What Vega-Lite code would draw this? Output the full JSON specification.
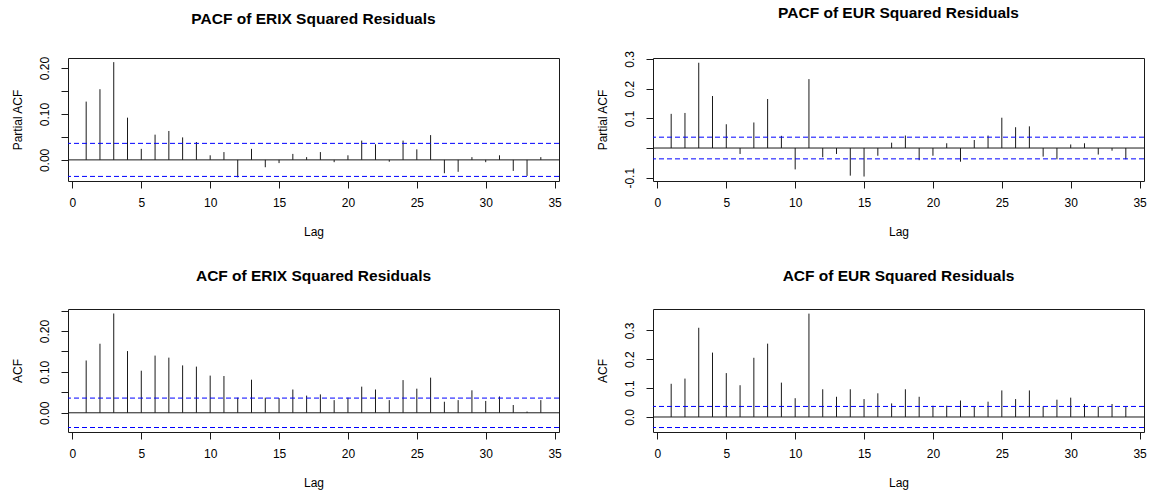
{
  "$schema": "https://vega.github.io/schema/vega-lite/v6.json",
  "background": "white",
  "padding": {"left": 10, "top": 5, "right": 2, "bottom": 2},
  "columns": 2,
  "bounds": "flush",
  "spacing": {"row": 128, "column": 94},
  "config": {
    "view": {"stroke": "#1a1a1a", "strokeWidth": 1},
    "font": "Liberation Sans",
    "axis": {"domain": false, "grid": false, "tickColor": "#1a1a1a", "tickSize": 7, "labelColor": "#000", "labelFontSize": 12, "titleFontSize": 12, "titleFontWeight": "normal", "titleColor": "#000", "labelFont": "Liberation Sans", "titleFont": "Liberation Sans", "labelOverlap": false},
    "axisY": {"labelAngle": -90, "labelAlign": "center", "labelBaseline": "bottom", "labelPadding": 10, "titlePadding": 14, "labelOverlap": false},
    "axisX": {"labelPadding": 9, "titlePadding": 18, "labelFlush": false},
    "title": {"fontSize": 15.5, "fontWeight": "bold", "color": "#000", "font": "Liberation Sans", "anchor": "middle"}
  },
  "datasets": {
    "pacf_erix": [
      {"lag": 1, "value": 0.127}, {"lag": 2, "value": 0.154}, {"lag": 3, "value": 0.213}, {"lag": 4, "value": 0.092},
      {"lag": 5, "value": 0.024}, {"lag": 6, "value": 0.055}, {"lag": 7, "value": 0.063}, {"lag": 8, "value": 0.049},
      {"lag": 9, "value": 0.039}, {"lag": 10, "value": 0.010}, {"lag": 11, "value": 0.017}, {"lag": 12, "value": -0.038},
      {"lag": 13, "value": 0.024}, {"lag": 14, "value": -0.016}, {"lag": 15, "value": -0.007}, {"lag": 16, "value": 0.013},
      {"lag": 17, "value": 0.006}, {"lag": 18, "value": 0.017}, {"lag": 19, "value": -0.005}, {"lag": 20, "value": 0.010},
      {"lag": 21, "value": 0.042}, {"lag": 22, "value": 0.034}, {"lag": 23, "value": -0.004}, {"lag": 24, "value": 0.042},
      {"lag": 25, "value": 0.023}, {"lag": 26, "value": 0.054}, {"lag": 27, "value": -0.029}, {"lag": 28, "value": -0.026},
      {"lag": 29, "value": 0.006}, {"lag": 30, "value": -0.005}, {"lag": 31, "value": 0.010}, {"lag": 32, "value": -0.024},
      {"lag": 33, "value": -0.035}, {"lag": 34, "value": 0.006}
    ],
    "pacf_eur": [
      {"lag": 1, "value": 0.115}, {"lag": 2, "value": 0.118}, {"lag": 3, "value": 0.287}, {"lag": 4, "value": 0.175},
      {"lag": 5, "value": 0.080}, {"lag": 6, "value": -0.020}, {"lag": 7, "value": 0.086}, {"lag": 8, "value": 0.165},
      {"lag": 9, "value": 0.041}, {"lag": 10, "value": -0.072}, {"lag": 11, "value": 0.232}, {"lag": 12, "value": -0.031},
      {"lag": 13, "value": -0.020}, {"lag": 14, "value": -0.093}, {"lag": 15, "value": -0.096}, {"lag": 16, "value": -0.026},
      {"lag": 17, "value": 0.018}, {"lag": 18, "value": 0.042}, {"lag": 19, "value": -0.041}, {"lag": 20, "value": -0.026},
      {"lag": 21, "value": 0.016}, {"lag": 22, "value": -0.046}, {"lag": 23, "value": 0.027}, {"lag": 24, "value": 0.042},
      {"lag": 25, "value": 0.102}, {"lag": 26, "value": 0.070}, {"lag": 27, "value": 0.073}, {"lag": 28, "value": -0.029},
      {"lag": 29, "value": -0.038}, {"lag": 30, "value": 0.012}, {"lag": 31, "value": 0.016}, {"lag": 32, "value": -0.022},
      {"lag": 33, "value": -0.009}, {"lag": 34, "value": -0.038}
    ],
    "acf_erix": [
      {"lag": 1, "value": 0.128}, {"lag": 2, "value": 0.169}, {"lag": 3, "value": 0.243}, {"lag": 4, "value": 0.151},
      {"lag": 5, "value": 0.103}, {"lag": 6, "value": 0.140}, {"lag": 7, "value": 0.135}, {"lag": 8, "value": 0.116},
      {"lag": 9, "value": 0.113}, {"lag": 10, "value": 0.091}, {"lag": 11, "value": 0.090}, {"lag": 12, "value": 0.037},
      {"lag": 13, "value": 0.081}, {"lag": 14, "value": 0.037}, {"lag": 15, "value": 0.036}, {"lag": 16, "value": 0.057},
      {"lag": 17, "value": 0.042}, {"lag": 18, "value": 0.045}, {"lag": 19, "value": 0.031}, {"lag": 20, "value": 0.037},
      {"lag": 21, "value": 0.064}, {"lag": 22, "value": 0.057}, {"lag": 23, "value": 0.031}, {"lag": 24, "value": 0.080},
      {"lag": 25, "value": 0.059}, {"lag": 26, "value": 0.086}, {"lag": 27, "value": 0.027}, {"lag": 28, "value": 0.031},
      {"lag": 29, "value": 0.055}, {"lag": 30, "value": 0.029}, {"lag": 31, "value": 0.040}, {"lag": 32, "value": 0.019},
      {"lag": 33, "value": 0.003}, {"lag": 34, "value": 0.031}
    ],
    "acf_eur": [
      {"lag": 1, "value": 0.115}, {"lag": 2, "value": 0.133}, {"lag": 3, "value": 0.309}, {"lag": 4, "value": 0.223},
      {"lag": 5, "value": 0.152}, {"lag": 6, "value": 0.110}, {"lag": 7, "value": 0.205}, {"lag": 8, "value": 0.254},
      {"lag": 9, "value": 0.119}, {"lag": 10, "value": 0.065}, {"lag": 11, "value": 0.358}, {"lag": 12, "value": 0.096},
      {"lag": 13, "value": 0.070}, {"lag": 14, "value": 0.096}, {"lag": 15, "value": 0.062}, {"lag": 16, "value": 0.082},
      {"lag": 17, "value": 0.047}, {"lag": 18, "value": 0.096}, {"lag": 19, "value": 0.070}, {"lag": 20, "value": 0.039},
      {"lag": 21, "value": 0.039}, {"lag": 22, "value": 0.057}, {"lag": 23, "value": 0.036}, {"lag": 24, "value": 0.053},
      {"lag": 25, "value": 0.092}, {"lag": 26, "value": 0.062}, {"lag": 27, "value": 0.092}, {"lag": 28, "value": 0.036},
      {"lag": 29, "value": 0.060}, {"lag": 30, "value": 0.067}, {"lag": 31, "value": 0.045}, {"lag": 32, "value": 0.036},
      {"lag": 33, "value": 0.045}, {"lag": 34, "value": 0.036}
    ],
    "ci_erix": [{"level": 0.036}, {"level": -0.036}],
    "ci_eur": [{"level": 0.0365}, {"level": -0.0365}],
    "zero": [{"level": 0}]
  },
  "concat": [
    {
      "title": {"text": "PACF of ERIX Squared Residuals", "offset": 29},
      "width": 491, "height": 123,
      "layer": [
        {"data": {"name": "pacf_erix"}, "mark": {"type": "rule", "color": "#1a1a1a", "strokeWidth": 1},
         "encoding": {
           "x": {"field": "lag", "type": "quantitative", "scale": {"domain": [-0.32, 35.32], "nice": false, "zero": false}, "axis": {"values": [0, 5, 10, 15, 20, 25, 30, 35], "title": "Lag", "labelOverlap": false}},
           "y": {"field": "value", "type": "quantitative", "title": "Partial ACF", "scale": {"domain": [-0.046, 0.222], "nice": false, "zero": false},
                 "axis": {"values": [0, 0.05, 0.1, 0.15, 0.2], "labelOverlap": false, "labelExpr": "abs(datum.value*10 - round(datum.value*10)) < 0.001 ? format(datum.value, '.2f') : ''"}},
           "y2": {"datum": 0}
         }},
        {"data": {"name": "ci_erix"}, "mark": {"type": "rule", "color": "#0000ff", "strokeDash": [5, 3], "strokeWidth": 1},
         "encoding": {"y": {"field": "level", "type": "quantitative", "title": "Partial ACF",
                 "axis": {"values": [0, 0.05, 0.1, 0.15, 0.2], "labelOverlap": false, "labelExpr": "abs(datum.value*10 - round(datum.value*10)) < 0.001 ? format(datum.value, '.2f') : ''"}}}},
        {"data": {"name": "zero"}, "mark": {"type": "rule", "color": "#1a1a1a", "strokeWidth": 1},
         "encoding": {"y": {"field": "level", "type": "quantitative", "title": "Partial ACF",
                 "axis": {"values": [0, 0.05, 0.1, 0.15, 0.2], "labelOverlap": false, "labelExpr": "abs(datum.value*10 - round(datum.value*10)) < 0.001 ? format(datum.value, '.2f') : ''"}}}}
      ]
    },
    {
      "title": {"text": "PACF of EUR Squared Residuals", "offset": 29},
      "width": 491, "height": 123,
      "layer": [
        {"data": {"name": "pacf_eur"}, "mark": {"type": "rule", "color": "#1a1a1a", "strokeWidth": 1},
         "encoding": {
           "x": {"field": "lag", "type": "quantitative", "scale": {"domain": [-0.32, 35.32], "nice": false, "zero": false}, "axis": {"values": [0, 5, 10, 15, 20, 25, 30, 35], "title": "Lag", "labelOverlap": false}},
           "y": {"field": "value", "type": "quantitative", "title": "Partial ACF", "scale": {"domain": [-0.111, 0.303], "nice": false, "zero": false},
                 "axis": {"values": [-0.1, 0, 0.1, 0.2, 0.3], "labelOverlap": false, "labelExpr": "abs(datum.value) < 0.001 ? '' : (datum.value < 0 ? '-' + format(-datum.value, '.1f') : format(datum.value, '.1f'))"}},
           "y2": {"datum": 0}
         }},
        {"data": {"name": "ci_eur"}, "mark": {"type": "rule", "color": "#0000ff", "strokeDash": [5, 3], "strokeWidth": 1},
         "encoding": {"y": {"field": "level", "type": "quantitative", "title": "Partial ACF",
                 "axis": {"values": [-0.1, 0, 0.1, 0.2, 0.3], "labelOverlap": false, "labelExpr": "abs(datum.value) < 0.001 ? '' : (datum.value < 0 ? '-' + format(-datum.value, '.1f') : format(datum.value, '.1f'))"}}}},
        {"data": {"name": "zero"}, "mark": {"type": "rule", "color": "#1a1a1a", "strokeWidth": 1},
         "encoding": {"y": {"field": "level", "type": "quantitative", "title": "Partial ACF",
                 "axis": {"values": [-0.1, 0, 0.1, 0.2, 0.3], "labelOverlap": false, "labelExpr": "abs(datum.value) < 0.001 ? '' : (datum.value < 0 ? '-' + format(-datum.value, '.1f') : format(datum.value, '.1f'))"}}}}
      ]
    },
    {
      "title": {"text": "ACF of ERIX Squared Residuals", "offset": 25},
      "width": 491, "height": 123,
      "layer": [
        {"data": {"name": "acf_erix"}, "mark": {"type": "rule", "color": "#1a1a1a", "strokeWidth": 1},
         "encoding": {
           "x": {"field": "lag", "type": "quantitative", "scale": {"domain": [-0.32, 35.32], "nice": false, "zero": false}, "axis": {"values": [0, 5, 10, 15, 20, 25, 30, 35], "title": "Lag", "labelOverlap": false}},
           "y": {"field": "value", "type": "quantitative", "title": "ACF", "scale": {"domain": [-0.047, 0.254], "nice": false, "zero": false},
                 "axis": {"values": [0, 0.05, 0.1, 0.15, 0.2, 0.25], "labelOverlap": false, "labelExpr": "abs(datum.value*10 - round(datum.value*10)) < 0.001 ? format(datum.value, '.2f') : ''"}},
           "y2": {"datum": 0}
         }},
        {"data": {"name": "ci_erix"}, "mark": {"type": "rule", "color": "#0000ff", "strokeDash": [5, 3], "strokeWidth": 1},
         "encoding": {"y": {"field": "level", "type": "quantitative", "title": "ACF",
                 "axis": {"values": [0, 0.05, 0.1, 0.15, 0.2, 0.25], "labelOverlap": false, "labelExpr": "abs(datum.value*10 - round(datum.value*10)) < 0.001 ? format(datum.value, '.2f') : ''"}}}},
        {"data": {"name": "zero"}, "mark": {"type": "rule", "color": "#1a1a1a", "strokeWidth": 1},
         "encoding": {"y": {"field": "level", "type": "quantitative", "title": "ACF",
                 "axis": {"values": [0, 0.05, 0.1, 0.15, 0.2, 0.25], "labelOverlap": false, "labelExpr": "abs(datum.value*10 - round(datum.value*10)) < 0.001 ? format(datum.value, '.2f') : ''"}}}}
      ]
    },
    {
      "title": {"text": "ACF of EUR Squared Residuals", "offset": 25},
      "width": 491, "height": 123,
      "layer": [
        {"data": {"name": "acf_eur"}, "mark": {"type": "rule", "color": "#1a1a1a", "strokeWidth": 1},
         "encoding": {
           "x": {"field": "lag", "type": "quantitative", "scale": {"domain": [-0.32, 35.32], "nice": false, "zero": false}, "axis": {"values": [0, 5, 10, 15, 20, 25, 30, 35], "title": "Lag", "labelOverlap": false}},
           "y": {"field": "value", "type": "quantitative", "title": "ACF", "scale": {"domain": [-0.052, 0.374], "nice": false, "zero": false},
                 "axis": {"values": [0, 0.1, 0.2, 0.3], "labelOverlap": false, "labelExpr": "format(datum.value, '.1f')"}},
           "y2": {"datum": 0}
         }},
        {"data": {"name": "ci_eur"}, "mark": {"type": "rule", "color": "#0000ff", "strokeDash": [5, 3], "strokeWidth": 1},
         "encoding": {"y": {"field": "level", "type": "quantitative", "title": "ACF",
                 "axis": {"values": [0, 0.1, 0.2, 0.3], "labelOverlap": false, "labelExpr": "format(datum.value, '.1f')"}}}},
        {"data": {"name": "zero"}, "mark": {"type": "rule", "color": "#1a1a1a", "strokeWidth": 1},
         "encoding": {"y": {"field": "level", "type": "quantitative", "title": "ACF",
                 "axis": {"values": [0, 0.1, 0.2, 0.3], "labelOverlap": false, "labelExpr": "format(datum.value, '.1f')"}}}}
      ]
    }
  ]
}
